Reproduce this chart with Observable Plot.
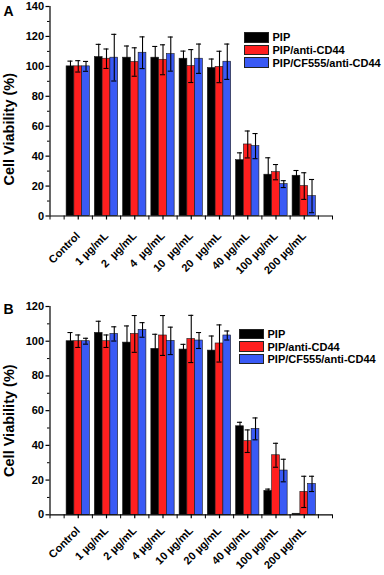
<!DOCTYPE html>
<html>
<head>
<meta charset="utf-8">
<script src="https://cdn.jsdelivr.net/npm/d3@7"></script>
<script src="https://cdn.jsdelivr.net/npm/@observablehq/plot@0.6"></script>
<style>
  html, body { margin: 0; padding: 0; background: #fff; }
  #root { position: relative; width: 384px; height: 575px; overflow: hidden; font-family: "Liberation Sans", Arial, sans-serif; font-weight: bold; }
  .panel { position: absolute; left: 0; width: 384px; }
  .legend { position: absolute; font-size: 11px; font-weight: bold; color: #000; }
  .legend .row { display: flex; align-items: center; height: 12.7px; white-space: nowrap; }
  .legend .sw { width: 25px; height: 10.5px; border: 0.6px solid #222; margin-right: 4px; box-sizing: border-box; }
</style>
</head>
<body>
<div id="root"></div>
<script>
// ---- data ----
const series = ["PIP", "PIP/anti-CD44", "PIP/CF555/anti-CD44"];
const seriesColors = ["#000000", "#ff1f1f", "#3a5af5"];

const categoriesA = ["Control", "1 µg/mL", "2\u00a0 µg/mL", "4\u00a0 µg/mL", "10\u00a0 µg/mL", "20\u00a0 µg/mL", "40 µg/mL", "100 µg/mL", "200 µg/mL"];
const categoriesB = ["Control", "1 µg/mL", "2 µg/mL", "4 µg/mL", "10 µg/mL", "20 µg/mL", "40 µg/mL", "100 µg/mL", "200 µg/mL"];

// Panel A
const meanA_PIP   = [100, 106.2, 105.8, 105.8, 105.1, 98.9, 37.3, 27.6, 26.9];
const errA_PIP    = [3.5, 8.5, 7.8, 7.5, 5.1, 6.0, 4.9, 11.3, 3.5];
const meanA_anti  = [100, 105.1, 102.9, 104.4, 100.2, 99.6, 47.8, 29.3, 20.0];
const errA_anti   = [3.8, 6.5, 9.5, 10.0, 11.0, 10.5, 9.0, 5.1, 8.9];
const meanA_CF555 = [100, 105.8, 109.1, 108.2, 105.1, 103.1, 46.7, 21.3, 13.3];
const errA_CF555  = [3.3, 15.6, 10.6, 11.4, 9.8, 11.8, 8.4, 2.3, 11.1];

// Panel B
const meanB_PIP   = [100, 104.8, 99.2, 95.6, 95.2, 94.6, 51.0, 13.8, 0.6];
const errB_PIP    = [5.0, 6.7, 9.6, 8.4, 3.0, 8.4, 2.3, 1.0, 0];
const meanB_anti  = [100, 100, 104.2, 103.3, 101.3, 98.7, 42.4, 34.3, 13.2];
const errB_anti   = [3.6, 3.6, 10.6, 11.5, 13.6, 10.7, 6.5, 6.9, 9.0];
const meanB_CF555 = [100, 104.2, 106.5, 100.2, 100.4, 103.3, 49.5, 25.5, 17.8];
const errB_CF555  = [1.7, 4.1, 4.2, 7.9, 4.6, 2.6, 6.3, 6.5, 4.4];

const yTicksA = [0, 20, 40, 60, 80, 100, 120, 140];
const yTicksB = [0, 20, 40, 60, 80, 100, 120];

// ---- build ----
const barW = 0.275;   // bar width in category units
const capHalf = 0.09;

function rowsFor(categories, means, errs) {
  return categories.flatMap((c, i) => series.map((s, j) => {
    const xc = i + 1 + (j - 1) * barW;
    return {cat: c, series: s, mean: means[j][i], err: errs[j][i],
            xc, x1: xc - barW / 2, x2: xc + barW / 2};
  }));
}

function panel({categories, means, errs, yMax, yTicks, height, marginTop, marginBottom, letter, letterDy, labelDy, xPad, top, legendPos}) {
  const rows = rowsFor(categories, means, errs);
  const minorY = d3.range(10, yMax, 20);
  const minorX = d3.range(0, 10.01, 0.5).filter(v => !(Number.isInteger(v) && v >= 1 && v <= 9));
  const chart = Plot.plot({
    width: 384,
    height,
    marginLeft: 49.5,
    marginRight: 52,
    marginTop,
    marginBottom,
    style: {fontFamily: "'Liberation Sans', Arial, sans-serif", fontWeight: "bold", fontSize: "11px", color: "#000", background: "#fff"},
    x: {domain: [0, 10]},
    y: {domain: [0, yMax]},
    color: {domain: series, range: seriesColors},
    marks: [
      Plot.rectY(rows, {x1: "x1", x2: "x2", y: "mean", fill: "series", stroke: "#1a1a1a", strokeWidth: 0.6}),
      Plot.ruleX(rows, {x: "xc", y1: d => Math.max(0, d.mean - d.err), y2: d => d.mean + d.err, stroke: "#000", strokeWidth: 1.1}),
      Plot.ruleY(rows.filter(d => d.err > 0), {y: d => d.mean + d.err, x1: d => d.xc - capHalf, x2: d => d.xc + capHalf, stroke: "#000", strokeWidth: 1.1}),
      Plot.ruleY(rows.filter(d => d.err > 0 && d.mean - d.err > 0), {y: d => d.mean - d.err, x1: d => d.xc - capHalf, x2: d => d.xc + capHalf, stroke: "#000", strokeWidth: 1.1}),
      Plot.ruleX([0], {stroke: "#000", strokeWidth: 1.2}),
      Plot.ruleY([0], {stroke: "#000", strokeWidth: 1.2}),
      Plot.axisY({ticks: yTicks, tickSize: 4, tickPadding: 2, strokeWidth: 1.2, label: null, fontWeight: "bold"}),
      Plot.axisY({ticks: minorY, tickSize: 2.5, text: null, strokeWidth: 1, label: null}),
      Plot.axisX({ticks: d3.range(1, 10), tickFormat: i => categories[i - 1], tickRotate: -45, tickSize: 4, tickPadding: xPad, strokeWidth: 1.2, label: null, fontWeight: "bold"}),
      Plot.axisX({ticks: minorX, tickSize: 4, text: null, strokeWidth: 1, label: null}),
      Plot.text(["Cell Viability (%)"], {text: d => d, frameAnchor: "left", textAnchor: "middle", lineAnchor: "middle", rotate: -90, dx: -40.5, dy: labelDy, fontSize: 14.5, fontWeight: "bold"}),
      Plot.text([letter], {text: d => d, frameAnchor: "top-left", textAnchor: "middle", lineAnchor: "middle", dx: -41.5, dy: letterDy, fontSize: 14, fontWeight: "bold"})
    ]
  });
  const div = document.createElement("div");
  div.className = "panel";
  div.style.top = top + "px";
  div.appendChild(chart);
  const leg = document.createElement("div");
  leg.className = "legend";
  leg.style.left = legendPos[0] + "px";
  leg.style.top = legendPos[1] + "px";
  series.forEach((s, j) => {
    const r = document.createElement("div");
    r.className = "row";
    const sw = document.createElement("span");
    sw.className = "sw";
    sw.style.background = seriesColors[j];
    const t = document.createElement("span");
    t.textContent = s;
    r.appendChild(sw); r.appendChild(t);
    leg.appendChild(r);
  });
  div.appendChild(leg);
  document.getElementById("root").appendChild(div);
}

panel({
  categories: categoriesA,
  means: [meanA_PIP, meanA_anti, meanA_CF555],
  errs: [errA_PIP, errA_anti, errA_CF555],
  yMax: 140, yTicks: yTicksA,
  height: 285, marginTop: 6, marginBottom: 69.5,
  letter: "A", letterDy: 5, labelDy: 18, xPad: 14,
  top: 0, legendPos: [243.5, 31]
});

panel({
  categories: categoriesB,
  means: [meanB_PIP, meanB_anti, meanB_CF555],
  errs: [errB_PIP, errB_anti, errB_CF555],
  yMax: 120, yTicks: yTicksB,
  height: 290, marginTop: 21, marginBottom: 60.7,
  letter: "B", letterDy: 3, labelDy: 10, xPad: 10,
  top: 285, legendPos: [238.5, 42.5]
});
</script>
</body>
</html>
